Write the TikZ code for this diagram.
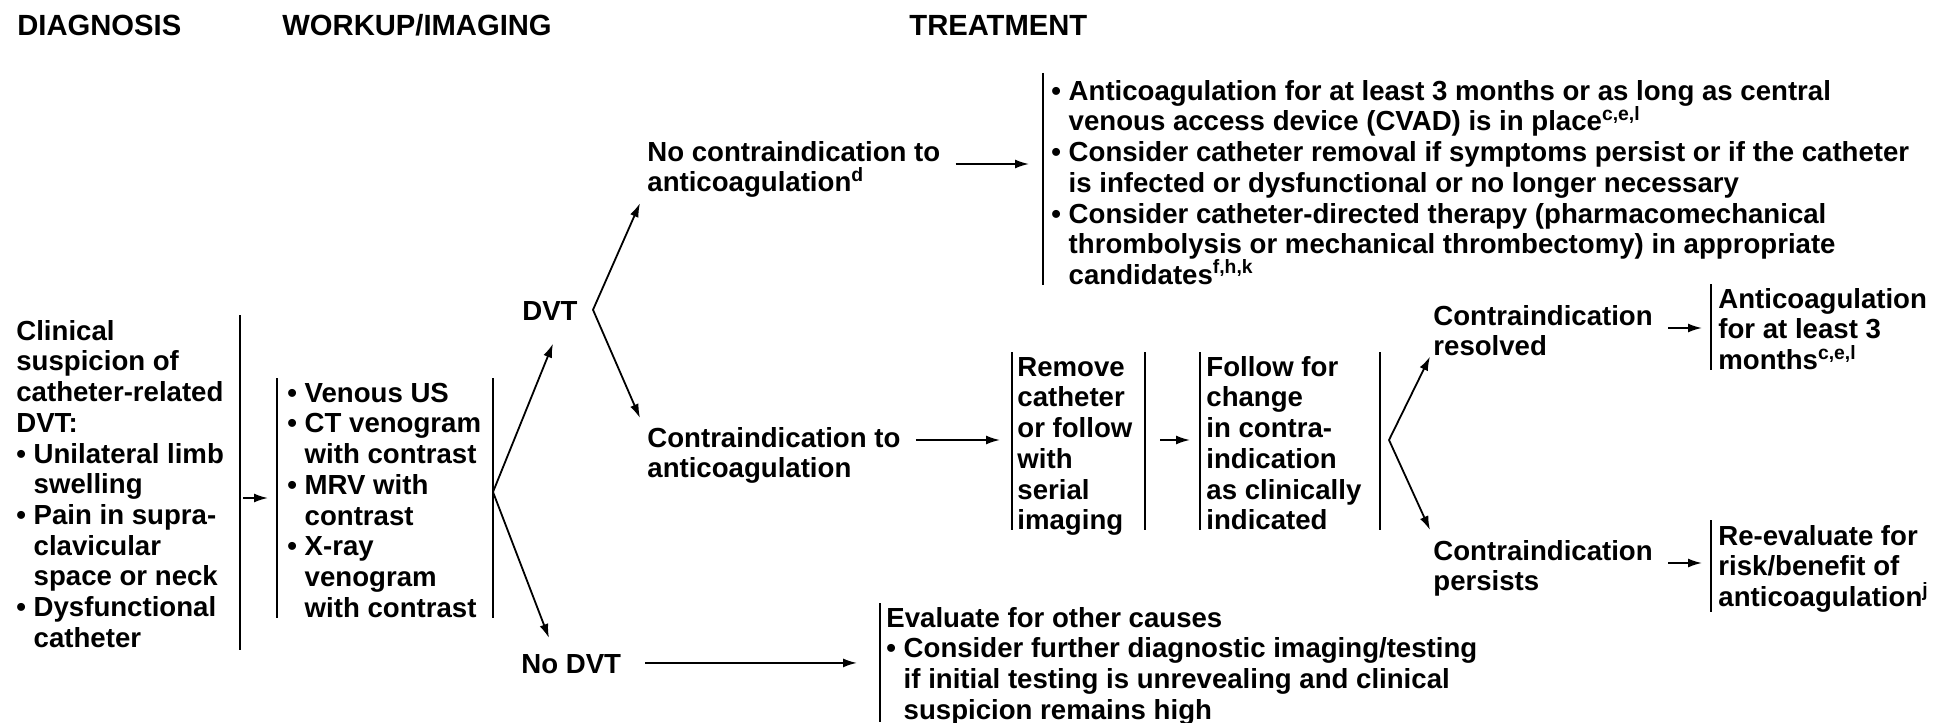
\documentclass[tikz,border=0pt]{standalone}
\usepackage{fontspec}
\setmainfont{Liberation Sans}
\usetikzlibrary{arrows.meta,calc}

\newcommand{\ind}{\phantom{\textbullet\ }}
\newcommand{\sstrut}{\rule{0pt}{10.4pt}}

\begin{document}
\begin{tikzpicture}[x=0.5pt, y=-0.5pt,
    txt/.style={anchor=north west, inner sep=0pt, align=left,
        font=\fontsize{13.8}{15.35}\selectfont\bfseries},
    head/.style={txt, font=\fontsize{14.6}{15.35}\selectfont\bfseries},
    arr/.style={-{Latex[length=7pt,width=4.5pt]}, line width=0.9pt},
    arrtwo/.style={{Latex[length=7pt,width=4.5pt]}-{Latex[length=7pt,width=4.5pt]}, line width=0.9pt},
    bar/.style={line width=1pt}]
    \useasboundingbox (0,0) rectangle (1952,722);

    % Überschriften
    \node[head] (hdiag) at (17,14) {\sstrut DIAGNOSIS};
    \node[head] (hwork) at (282,14) {\sstrut WORKUP/IMAGING};
    \node[head] (htreat) at (909,14) {\sstrut TREATMENT};

    % Diagnose und Bildgebung
    \node[txt] (susp) at (16,319) {\sstrut Clinical\\suspicion of\\catheter-related\\DVT:\\
        \textbullet\ Unilateral limb\\\ind swelling\\\textbullet\ Pain in supra-\\\ind clavicular\\
        \ind space or neck\\\textbullet\ Dysfunctional\\\ind catheter};
    \node[txt] (imag) at (287,381) {\sstrut\textbullet\ Venous US\\\textbullet\ CT venogram\\\ind with contrast\\
        \textbullet\ MRV with\\\ind contrast\\\textbullet\ X-ray\\\ind venogram\\\ind with contrast};
    \node[txt] (dvt) at (522,299) {\sstrut DVT};
    \node[txt] (nodvt) at (521,652) {\sstrut No DVT};

    % Therapie
    \node[txt] (nocon) at (647,140) {\sstrut No contraindication to\\anticoagulation\textsuperscript{d}};
    \node[txt] (con) at (647,426) {\sstrut Contraindication to\\anticoagulation};
    \node[txt] (cvad) at (1051,79) {\sstrut\textbullet\ Anticoagulation for at least 3 months or as long as central\\
        \ind venous access device (CVAD) is in place\textsuperscript{c,e,l}\\
        \textbullet\ Consider catheter removal if symptoms persist or if the catheter\\
        \ind is infected or dysfunctional or no longer necessary\\
        \textbullet\ Consider catheter-directed therapy (pharmacomechanical\\
        \ind thrombolysis or mechanical thrombectomy) in appropriate\\
        \ind candidates\textsuperscript{f,h,k}};
    \node[txt] (remove) at (1017,355) {\sstrut Remove\\catheter\\or follow\\with\\serial\\imaging};
    \node[txt] (follow) at (1206,355) {\sstrut Follow for\\change\\in contra-\\indication\\as clinically\\indicated};
    \node[txt] (resolved) at (1433,304) {\sstrut Contraindication\\resolved};
    \node[txt] (persists) at (1433,539) {\sstrut Contraindication\\persists};
    \node[txt] (antic3) at (1718,287) {\sstrut Anticoagulation\\for at least 3\\months\textsuperscript{c,e,l}};
    \node[txt] (reeval) at (1718,524) {\sstrut Re-evaluate for\\risk/benefit of\\anticoagulation\textsuperscript{j}};
    \node[txt] (evaluate) at (886,606) {\sstrut Evaluate for other causes\\
        \textbullet\ Consider further diagnostic imaging/testing\\
        \ind if initial testing is unrevealing and clinical\\
        \ind suspicion remains high};

    % Balken
    \draw[bar] (240,315) -- (240,650);
    \draw[bar] (277,378) -- (277,618);
    \draw[bar] (493,378) -- (493,618);
    \draw[bar] (1043,73) -- (1043,285);
    \draw[bar] (1012,352) -- (1012,530);
    \draw[bar] (1145,352) -- (1145,530);
    \draw[bar] (1200,352) -- (1200,530);
    \draw[bar] (1380,352) -- (1380,530);
    \draw[bar] (1711,284) -- (1711,370);
    \draw[bar] (1711,520) -- (1711,612);
    \draw[bar] (880,603) -- (880,722);

    % Verzweigungen
    \coordinate (imagfork) at (493,492);
    \draw[arrtwo] ($(dvt.south)+(3,23)$) -- (imagfork) -- ($(nodvt.north west)+(28,-14)$);
    \coordinate (dvtfork) at ($(dvt.east)+(15,0)$);
    \draw[arrtwo] ($(nocon.south west)+(-7,5)$) -- (dvtfork) -- ($(con.north west)+(-7,-8)$);
    \coordinate (followfork) at (1389,440);
    \draw[arrtwo] ($(resolved.south west)+(-3,0)$) -- (followfork) -- ($(persists.north west)+(-3,-9)$);

    % Pfeile
    \coordinate (suspout) at (243,498);
    \draw[arr, shorten >=9.5pt] (suspout) -- (suspout -| imag.west);
    \coordinate (noconout) at ($(nocon.north east)+(15,24)$);
    \draw[arr, shorten >=11pt] (noconout) -- (noconout -| cvad.west);
    \coordinate (conout) at ($(con.north east)+(15,14)$);
    \draw[arr, shorten >=8.5pt] (conout) -- (conout -| remove.west);
    \coordinate (removeout) at (1160,440);
    \draw[arr, shorten >=8pt] (removeout) -- (removeout -| follow.west);
    \coordinate (resout) at ($(resolved.north east)+(15,24)$);
    \draw[arr, shorten >=8pt] (resout) -- (resout -| antic3.west);
    \coordinate (persout) at ($(persists.north east)+(15,24)$);
    \draw[arr, shorten >=8pt] (persout) -- (persout -| reeval.west);
    \draw[arr, shorten <=12pt, shorten >=14.5pt] (nodvt.east) -- (nodvt.east -| evaluate.west);
\end{tikzpicture}
\end{document}
